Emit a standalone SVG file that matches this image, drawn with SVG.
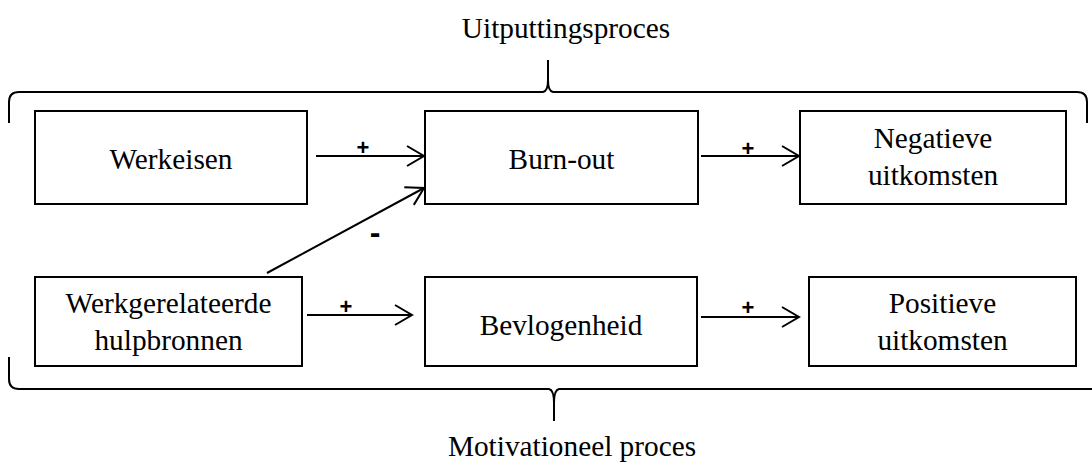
<svg xmlns="http://www.w3.org/2000/svg" width="1092" height="462" viewBox="0 0 1092 462">
<defs>
<style>
.box{fill:#fff;stroke:#000;stroke-width:2}
.lbl{font-family:"Liberation Serif","Times New Roman",serif;font-size:29.3px;fill:#000;text-anchor:middle}
.sign{font-family:"Liberation Sans",Arial,sans-serif;font-size:22px;font-weight:bold;fill:#000;text-anchor:middle}
.minus{font-family:"Liberation Sans",Arial,sans-serif;font-size:32px;font-weight:bold;fill:#000;text-anchor:middle}
.conn{stroke:#000;stroke-width:2;fill:none}
.brace{stroke:#000;stroke-width:2;fill:none}
</style>
<marker id="arr" markerUnits="userSpaceOnUse" markerWidth="24" markerHeight="24" viewBox="-20 -12 22 24" refX="0" refY="0" orient="auto">
<path d="M-17,-10 L0,0 L-17,10" fill="none" stroke="#000" stroke-width="2"/>
</marker>
</defs>
<rect width="1092" height="462" fill="#fff"/>
<g id="brace-top">
<path class="brace" d="M9,123 L9,102 Q9,92 19,92 L543,92 Q548,91 548,80 L548,60 M548,80 Q548,91 553,92 L1077,92 Q1087,92 1087,102 L1087,123"/>
<text class="lbl" x="566" y="38">Uitputtingsproces</text>
</g>
<g id="brace-bottom">
<path class="brace" d="M9,357 L9,379 Q9,389 19,389 L549,389 Q554,390 554,403 L554,421 M554,403 Q554,390 559,389 L1096,389"/>
<text class="lbl" x="572" y="456">Motivationeel proces</text>
</g>
<g id="werkeisen">
<rect class="box" x="35" y="111" width="272" height="93"/>
<text class="lbl" x="171" y="169">Werkeisen</text>
</g>
<g id="burnout">
<rect class="box" x="425" y="111" width="273" height="93"/>
<text class="lbl" x="561.5" y="169">Burn-out</text>
</g>
<g id="negatieve">
<rect class="box" x="800" y="111" width="266" height="93"/>
<text class="lbl" x="933" y="148">Negatieve</text>
<text class="lbl" x="933" y="185">uitkomsten</text>
</g>
<g id="hulpbronnen">
<rect class="box" x="35" y="277" width="267" height="89"/>
<text class="lbl" x="168.5" y="313">Werkgerelateerde</text>
<text class="lbl" x="168.5" y="350">hulpbronnen</text>
</g>
<g id="bevlogenheid">
<rect class="box" x="425" y="277" width="272" height="89"/>
<text class="lbl" x="561" y="335">Bevlogenheid</text>
</g>
<g id="positieve">
<rect class="box" x="809" y="277" width="267" height="89"/>
<text class="lbl" x="942.5" y="313">Positieve</text>
<text class="lbl" x="942.5" y="350">uitkomsten</text>
</g>
<g id="connectors">
<line class="conn" x1="316" y1="156" x2="424" y2="156" marker-end="url(#arr)"/>
<line class="conn" x1="701" y1="156" x2="799" y2="156" marker-end="url(#arr)"/>
<line class="conn" x1="267" y1="273" x2="424" y2="188" marker-end="url(#arr)"/>
<line class="conn" x1="307" y1="315" x2="412" y2="315" marker-end="url(#arr)"/>
<line class="conn" x1="701" y1="317" x2="799" y2="317" marker-end="url(#arr)"/>
<text class="sign" x="363" y="155">+</text>
<text class="sign" x="748" y="156">+</text>
<text class="minus" x="375" y="243">-</text>
<text class="sign" x="346" y="314">+</text>
<text class="sign" x="748" y="315">+</text>
</g>
</svg>
